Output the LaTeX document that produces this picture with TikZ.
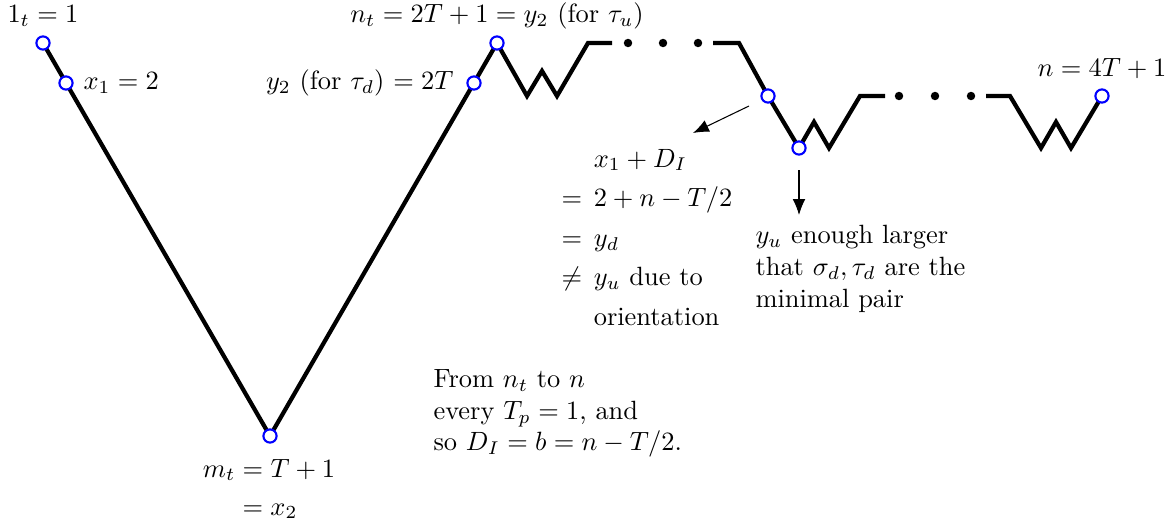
\documentclass[tikz,border=0pt]{standalone}
\usepackage{amsmath}
\usetikzlibrary{arrows.meta,backgrounds}
\begin{document}
\begin{tikzpicture}[x=0.0133cm, y=-0.0133cm,
  walk/.style={line width=1.6pt},
  pt/.style={circle, draw=blue, fill=white, line width=0.8pt, inner sep=0pt, minimum size=5pt},
  dot/.style={circle, fill=black, inner sep=0pt, minimum size=3.2pt},
  lbl/.style={inner sep=0pt},
  note/.style={-{Latex[length=6pt,width=4.8pt]}, thin}]
\useasboundingbox (0,0) rectangle (1174,527);
% marked positions of the walk
\node[pt] (one) at (43,43) {};
\node[pt] (xone) at (66,83) {};
\node[pt] (mt) at (270,436) {};
\node[pt] (yd) at (474,83) {};
\node[pt] (nt) at (497,43) {};
\node[pt] (dd) at (768,96) {};
\node[pt] (yu) at (799,148) {};
\node[pt] (n) at (1102,96) {};
\begin{scope}[on background layer]
\draw[walk] (one.center) -- (mt.center) -- (nt.center) -- (527,96) -- (542,71) -- (557,96) -- (588,43) -- (612,43);
\draw[walk] (713,43) -- (739,43) -- (dd.center) -- (yu.center) -- (814,122) -- (829,148) -- (860,96) -- (885,96);
\draw[walk] (986,96) -- (1010,96) -- (1041,148) -- (1056,122) -- (1071,148) -- (n.center);
\end{scope}
\foreach \x in {628,663,698} \node[dot] (da\x) at (\x,43) {};
\foreach \x in {899,935,971} \node[dot] (db\x) at (\x,96) {};
% labels
\node[lbl, anchor=base] (onel) at (43,23) {$1_t = 1$};
\node[lbl, anchor=base west] (xonel) at (83,90) {$x_1 = 2$};
\node[lbl, anchor=base] (ntl) at (497,23) {$n_t = 2T+1 = y_2$ (for $\tau_u$)};
\node[lbl, anchor=base east] (ydl) at (454,90) {$y_2$ (for $\tau_d$) $= 2T$};
\node[lbl, anchor=base] (nl) at (1102,77) {$n = 4T+1$};
\node[lbl, anchor=base] (mtl) at (269,477) {$m_t = T+1$};
\node[lbl, anchor=base] (xtwo) at (270,515) {$= x_2$};
\node[lbl, anchor=base west] (dsum) at (561,167) {$\begin{aligned}[t]
  &x_1 + D_I\\
  ={}\,&2+n-T/2\\
  ={}\,&y_d\\
  \neq{}\,&y_u\text{ due to}\\
  &\text{orientation}
\end{aligned}$};
\node[lbl, anchor=north west, align=left] (yul) at (755,225) {$y_u$ enough larger\\that $\sigma_d, \tau_d$ are the\\minimal pair};
\node[lbl, anchor=north west, align=left] (from) at (433,369) {From $n_t$ to $n$\\every $T_p = 1$, and\\so $D_I = b = n - T/2$.};
% pointers
\coordinate (ftail) at (749,106);
\coordinate (fhead) at (693,133);
\coordinate (ytail) at (799,170);
\coordinate (yhead) at (799,215);
\draw[note] (ftail) -- (fhead);
\draw[note] (ytail) -- (yhead);
\end{tikzpicture}
\end{document}
